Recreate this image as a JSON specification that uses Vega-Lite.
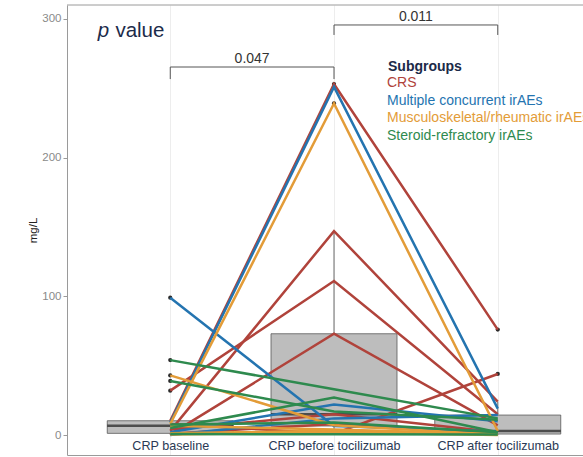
{
  "$schema": "https://vega.github.io/schema/vega-lite/v6.json",
  "width": 516,
  "height": 450,
  "autosize": {"type": "none"},
  "padding": {"left": 67, "top": 5, "right": 0, "bottom": 2},
  "background": "white",
  "config": {
    "view": {"stroke": null},
    "font": "Liberation Sans"
  },
  "datasets": {
    "crp": [
      {"id": "R1", "group": "CRS", "t": 0, "crp": 10.3}, {"id": "R1", "group": "CRS", "t": 1, "crp": 253}, {"id": "R1", "group": "CRS", "t": 2, "crp": 76},
      {"id": "R2", "group": "CRS", "t": 0, "crp": 3}, {"id": "R2", "group": "CRS", "t": 1, "crp": 147}, {"id": "R2", "group": "CRS", "t": 2, "crp": 24},
      {"id": "R3", "group": "CRS", "t": 0, "crp": 32}, {"id": "R3", "group": "CRS", "t": 1, "crp": 111}, {"id": "R3", "group": "CRS", "t": 2, "crp": 15},
      {"id": "R4", "group": "CRS", "t": 0, "crp": 0.5}, {"id": "R4", "group": "CRS", "t": 1, "crp": 73}, {"id": "R4", "group": "CRS", "t": 2, "crp": 7},
      {"id": "R5", "group": "CRS", "t": 0, "crp": 8}, {"id": "R5", "group": "CRS", "t": 1, "crp": 1}, {"id": "R5", "group": "CRS", "t": 2, "crp": 44},
      {"id": "R6", "group": "CRS", "t": 0, "crp": 4}, {"id": "R6", "group": "CRS", "t": 1, "crp": 15}, {"id": "R6", "group": "CRS", "t": 2, "crp": 2},
      {"id": "R7", "group": "CRS", "t": 0, "crp": 1}, {"id": "R7", "group": "CRS", "t": 1, "crp": 8}, {"id": "R7", "group": "CRS", "t": 2, "crp": 0.5},
      {"id": "B1", "group": "Multiple concurrent irAEs", "t": 0, "crp": 9}, {"id": "B1", "group": "Multiple concurrent irAEs", "t": 1, "crp": 251}, {"id": "B1", "group": "Multiple concurrent irAEs", "t": 2, "crp": 19},
      {"id": "B2", "group": "Multiple concurrent irAEs", "t": 0, "crp": 99}, {"id": "B2", "group": "Multiple concurrent irAEs", "t": 1, "crp": 6.5}, {"id": "B2", "group": "Multiple concurrent irAEs", "t": 2, "crp": 2.5},
      {"id": "B3", "group": "Multiple concurrent irAEs", "t": 0, "crp": 2}, {"id": "B3", "group": "Multiple concurrent irAEs", "t": 1, "crp": 22}, {"id": "B3", "group": "Multiple concurrent irAEs", "t": 2, "crp": 10},
      {"id": "B4", "group": "Multiple concurrent irAEs", "t": 0, "crp": 0}, {"id": "B4", "group": "Multiple concurrent irAEs", "t": 1, "crp": 12}, {"id": "B4", "group": "Multiple concurrent irAEs", "t": 2, "crp": 14.4},
      {"id": "O1", "group": "Musculoskeletal/rheumatic irAEs", "t": 0, "crp": 8}, {"id": "O1", "group": "Musculoskeletal/rheumatic irAEs", "t": 1, "crp": 239}, {"id": "O1", "group": "Musculoskeletal/rheumatic irAEs", "t": 2, "crp": 2.9},
      {"id": "O2", "group": "Musculoskeletal/rheumatic irAEs", "t": 0, "crp": 43}, {"id": "O2", "group": "Musculoskeletal/rheumatic irAEs", "t": 1, "crp": 7}, {"id": "O2", "group": "Musculoskeletal/rheumatic irAEs", "t": 2, "crp": 0.2},
      {"id": "O3", "group": "Musculoskeletal/rheumatic irAEs", "t": 0, "crp": 1.2}, {"id": "O3", "group": "Musculoskeletal/rheumatic irAEs", "t": 1, "crp": 3}, {"id": "O3", "group": "Musculoskeletal/rheumatic irAEs", "t": 2, "crp": 0.3},
      {"id": "O4", "group": "Musculoskeletal/rheumatic irAEs", "t": 0, "crp": 0.3}, {"id": "O4", "group": "Musculoskeletal/rheumatic irAEs", "t": 1, "crp": 2}, {"id": "O4", "group": "Musculoskeletal/rheumatic irAEs", "t": 2, "crp": 0},
      {"id": "O5", "group": "Musculoskeletal/rheumatic irAEs", "t": 0, "crp": 6.7}, {"id": "O5", "group": "Musculoskeletal/rheumatic irAEs", "t": 1, "crp": 4}, {"id": "O5", "group": "Musculoskeletal/rheumatic irAEs", "t": 2, "crp": 0.7},
      {"id": "G1", "group": "Steroid-refractory irAEs", "t": 0, "crp": 54}, {"id": "G1", "group": "Steroid-refractory irAEs", "t": 1, "crp": 33}, {"id": "G1", "group": "Steroid-refractory irAEs", "t": 2, "crp": 12},
      {"id": "G2", "group": "Steroid-refractory irAEs", "t": 0, "crp": 39}, {"id": "G2", "group": "Steroid-refractory irAEs", "t": 1, "crp": 17}, {"id": "G2", "group": "Steroid-refractory irAEs", "t": 2, "crp": 11},
      {"id": "G3", "group": "Steroid-refractory irAEs", "t": 0, "crp": 5}, {"id": "G3", "group": "Steroid-refractory irAEs", "t": 1, "crp": 27}, {"id": "G3", "group": "Steroid-refractory irAEs", "t": 2, "crp": 2},
      {"id": "G4", "group": "Steroid-refractory irAEs", "t": 0, "crp": 7.5}, {"id": "G4", "group": "Steroid-refractory irAEs", "t": 1, "crp": 9}, {"id": "G4", "group": "Steroid-refractory irAEs", "t": 2, "crp": 2},
      {"id": "G5", "group": "Steroid-refractory irAEs", "t": 0, "crp": 0.8}, {"id": "G5", "group": "Steroid-refractory irAEs", "t": 1, "crp": 0.5}, {"id": "G5", "group": "Steroid-refractory irAEs", "t": 2, "crp": 0.4}
    ],
    "brackets": [
      {"t": 0, "t2": 1, "crp": 265.3, "crp2": 265.3},
      {"t": 0, "t2": 0, "crp": 265.3, "crp2": 256.6},
      {"t": 1, "t2": 1, "crp": 265.3, "crp2": 256.6},
      {"t": 1, "t2": 2, "crp": 295.6, "crp2": 295.6},
      {"t": 1, "t2": 1, "crp": 295.6, "crp2": 288.4},
      {"t": 2, "t2": 2, "crp": 295.6, "crp2": 288.4}
    ],
    "pvals": [
      {"t": 0.5, "crp": 268.4, "label": "0.047"},
      {"t": 1.5, "crp": 298.6, "label": "0.011"}
    ],
    "note": [
      {"part": "p", "t": -0.443, "crp": 286.6},
      {"part": "value", "t": -0.335, "crp": 286.6}
    ]
  },
  "layer": [
    {
      "data": {"values": [{}]},
      "mark": {"type": "rule", "color": "#9a9a9a", "strokeWidth": 1},
      "encoding": {
        "y": {"datum": 310, "type": "quantitative", "scale": {"domain": [-14.4, 310], "nice": false, "zero": false}, "title": "mg/L"}
      }
    },
    {
      "data": {"name": "crp"},
      "mark": {
        "type": "boxplot",
        "orient": "vertical",
        "extent": 1.5,
        "size": 126,
        "box": {"color": "#bdbdbd", "stroke": "#595959", "strokeWidth": 0.8},
        "median": {"color": "#1e1e1e", "thickness": 2.5},
        "rule": {"color": "#6b6b6b", "strokeWidth": 1},
        "outliers": {"color": "#2b2b2b", "filled": true, "size": 18, "opacity": 1}
      },
      "encoding": {
        "x": {"field": "t", "type": "quantitative", "scale": {"domain": [-0.6, 2.49], "nice": false, "zero": false}, "title": null},
        "y": {"field": "crp", "type": "quantitative", "scale": {"domain": [-14.4, 310], "nice": false, "zero": false}, "title": "mg/L"}
      }
    },
    {
      "data": {"name": "crp"},
      "mark": {"type": "line", "strokeWidth": 2.5},
      "encoding": {
        "x": {
          "field": "t", "type": "quantitative",
          "scale": {"domain": [-0.6, 2.49], "nice": false, "zero": false},
          "title": null,
          "axis": {
            "values": [0, 1, 2],
            "labelExpr": "['CRP baseline', 'CRP before tocilizumab', 'CRP after tocilizumab'][datum.value]",
            "ticks": false, "tickSize": 0,
            "labelPadding": -16,
            "labelFontSize": 12.6,
            "labelColor": "#2b3a55",
            "labelFlush": false,
            "labelOverlap": false,
            "domainColor": "#9a9a9a",
            "gridColor": "#ebebeb",
            "gridWidth": 0.9
          }
        },
        "y": {
          "field": "crp", "type": "quantitative",
          "scale": {"domain": [-14.4, 310], "nice": false, "zero": false},
          "title": "mg/L",
          "axis": {
            "values": [0, 50, 100, 150, 200, 250, 300],
            "labelExpr": "datum.value % 100 === 0 ? datum.label : ''",
            "tickColor": {"condition": {"test": "datum.value % 100 === 0", "value": "#9a9a9a"}, "value": "transparent"},
            "gridWidth": {"condition": {"test": "datum.value % 100 === 0", "value": 0.9}, "value": 0.5},
            "gridColor": "#ebebeb",
            "domainColor": "#9a9a9a",
            "tickSize": 4,
            "labelColor": "#8a8a8a",
            "labelFontSize": 11.5,
            "labelPadding": 2,
            "titleFontSize": 11.5,
            "titleFontWeight": "normal",
            "titleColor": "#222222",
            "titlePadding": 3
          }
        },
        "color": {
          "field": "group", "type": "nominal",
          "scale": {
            "domain": ["CRS", "Multiple concurrent irAEs", "Musculoskeletal/rheumatic irAEs", "Steroid-refractory irAEs"],
            "range": ["#b0433b", "#2474b0", "#e39c38", "#2e8a4e"]
          },
          "legend": {
            "orient": "none",
            "legendX": 321,
            "legendY": 55,
            "title": "Subgroups",
            "titleFontSize": 14,
            "titleFontWeight": "bold",
            "titleColor": "#1b2a48",
            "titlePadding": 2,
            "labelFontSize": 14,
            "labelLimit": 400,
            "symbolSize": 0.001,
            "symbolOpacity": 0,
            "symbolStrokeWidth": 0.001,
            "labelOffset": -15,
            "rowPadding": 3.5,
            "padding": 0,
            "encode": {"labels": {"update": {"fill": {"scale": "color", "field": "value"}}}}
          }
        },
        "detail": {"field": "id"},
        "order": {"field": "t"}
      }
    },
    {
      "data": {"name": "brackets"},
      "mark": {"type": "rule", "color": "#555555", "strokeWidth": 1},
      "encoding": {
        "x": {"field": "t", "type": "quantitative", "title": null},
        "x2": {"field": "t2"},
        "y": {"field": "crp", "type": "quantitative", "title": "mg/L"},
        "y2": {"field": "crp2"}
      }
    },
    {
      "data": {"name": "pvals"},
      "mark": {"type": "text", "fontSize": 14, "color": "#333333", "baseline": "alphabetic", "align": "center"},
      "encoding": {
        "x": {"field": "t", "type": "quantitative", "title": null},
        "y": {"field": "crp", "type": "quantitative", "title": "mg/L"},
        "text": {"field": "label"}
      }
    },
    {
      "data": {"name": "note"},
      "transform": [{"filter": "datum.part === 'p'"}],
      "mark": {"type": "text", "fontSize": 20.5, "fontStyle": "italic", "color": "#1c2b4a", "baseline": "alphabetic", "align": "left"},
      "encoding": {
        "x": {"field": "t", "type": "quantitative", "title": null},
        "y": {"field": "crp", "type": "quantitative", "title": "mg/L"},
        "text": {"field": "part"}
      }
    },
    {
      "data": {"name": "note"},
      "transform": [{"filter": "datum.part === 'value'"}],
      "mark": {"type": "text", "fontSize": 20.5, "color": "#1c2b4a", "baseline": "alphabetic", "align": "left"},
      "encoding": {
        "x": {"field": "t", "type": "quantitative", "title": null},
        "y": {"field": "crp", "type": "quantitative", "title": "mg/L"},
        "text": {"field": "part"}
      }
    }
  ]
}
